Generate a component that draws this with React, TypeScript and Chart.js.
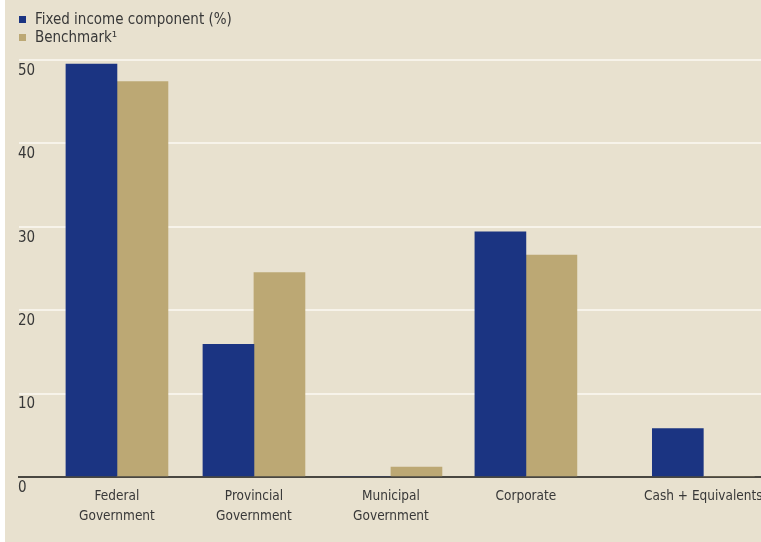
import React, { useEffect, useRef } from 'react';
import { Chart, registerables, CategoryScale } from 'chart.js';

// ---- data ----
const categories: (string | string[])[] = [
  ['Federal', 'Government'],
  ['Provincial', 'Government'],
  ['Municipal', 'Government'],
  ['Corporate'],
  ['Cash + Equivalents'],
];
const fixedIncome = [49.5, 15.9, 0, 29.4, 5.8];
const benchmark = [47.4, 24.5, 1.2, 26.6, 0];
const seriesLabels = ['Fixed income component (%)', 'Benchmark\u00B9'];
const yMin = 0;
const yMax = 50;
const yStep = 10;

// ---- layout / style ----
const SLOT_POS = [0, 1, 2, 2.985, 4.28];
const P_MIN = -0.715;
const P_MAX = 4.701;
const FONT = "'Liberation Sans Narrow', 'DejaVu Sans Condensed', Roboto, sans-serif";
const TEXT = '#383838';
const BLUE = '#1b3482';
const TAN = '#bca874';
const BG = '#e8e1cf';
const GRID = '#f7f3ea';

class SpacedCategoryScale extends CategoryScale {
  static id = 'spacedCategory';
  getPixelForValue(value: any) {
    let v = value;
    if (typeof v !== 'number') v = (this as any).parse(v);
    if (v === null || v === undefined || Number.isNaN(v)) return NaN;
    const pos = SLOT_POS[v] ?? v;
    return this.getPixelForDecimal((pos - P_MIN) / (P_MAX - P_MIN));
  }
}

Chart.register(...registerables, SpacedCategoryScale as any);

const backgroundPlugin = {
  id: 'bgPanel',
  beforeDraw(chart: any) {
    const { ctx, width, height } = chart;
    ctx.save();
    ctx.fillStyle = '#ffffff';
    ctx.fillRect(0, 0, width, height);
    ctx.fillStyle = BG;
    ctx.fillRect(5, 0, width - 5, height);
    ctx.restore();
  },
};

const legendPlugin = {
  id: 'stackedLegend',
  afterDraw(chart: any) {
    const ctx = chart.ctx;
    ctx.save();
    chart.data.datasets.forEach((ds: any, i: number) => {
      const baseline = 24 + i * 18;
      ctx.fillStyle = ds.backgroundColor;
      ctx.fillRect(19, baseline - 8, 7, 7);
      ctx.fillStyle = TEXT;
      ctx.font = `15px ${FONT}`;
      ctx.textBaseline = 'alphabetic';
      ctx.textAlign = 'left';
      ctx.fillText(ds.label, 35, baseline);
    });
    ctx.restore();
  },
};

export default function App() {
  const ref = useRef<HTMLCanvasElement>(null);
  useEffect(() => {
    if (!ref.current) return;
    const chart = new Chart(ref.current, {
      type: 'bar',
      data: {
        labels: categories as any,
        datasets: [
          { label: seriesLabels[0], data: fixedIncome, backgroundColor: BLUE, borderWidth: 0 },
          { label: seriesLabels[1], data: benchmark, backgroundColor: TAN, borderWidth: 0 },
        ],
      },
      options: {
        responsive: false,
        animation: false,
        events: [],
        layout: { padding: { top: 60, left: 19, right: 0, bottom: 0 } },
        datasets: { bar: { barThickness: 51 } } as any,
        plugins: { legend: { display: false }, tooltip: { enabled: false } },
        scales: {
          x: {
            type: 'spacedCategory' as any,
            offset: true,
            z: 1,
            grid: { display: false },
            border: { display: true, color: 'rgba(45,43,40,0.85)', width: 2 },
            ticks: {
              autoSkip: false,
              maxRotation: 0,
              minRotation: 0,
              padding: 1,
              color: TEXT,
              font: { family: FONT, size: 13.5, lineHeight: 20 / 13.5 },
            },
            afterFit(s: any) {
              s.height = 65;
              s.paddingLeft = 0;
              s.paddingRight = 0;
            },
          } as any,
          y: {
            min: yMin,
            max: yMax,
            ticks: {
              stepSize: yStep,
              mirror: true,
              padding: -1,
              labelOffset: 11,
              color: TEXT,
              font: { family: FONT, size: 15 },
            },
            grid: {
              drawTicks: false,
              lineWidth: 2,
              color: (c: any) => (c.tick && c.tick.value === 0 ? 'rgba(0,0,0,0)' : GRID),
            },
            border: { display: false },
            afterFit(s: any) {
              s.width = 0;
              s.paddingTop = 0;
              s.paddingBottom = 0;
            },
          } as any,
        },
      },
      plugins: [backgroundPlugin, legendPlugin],
    });
    return () => chart.destroy();
  }, []);
  return (
    <div style={{ position: 'absolute', left: 0, top: 0, width: 761, height: 542 }}>
      <canvas ref={ref} width={761} height={542} style={{ width: 761, height: 542, display: 'block' }} />
    </div>
  );
}
